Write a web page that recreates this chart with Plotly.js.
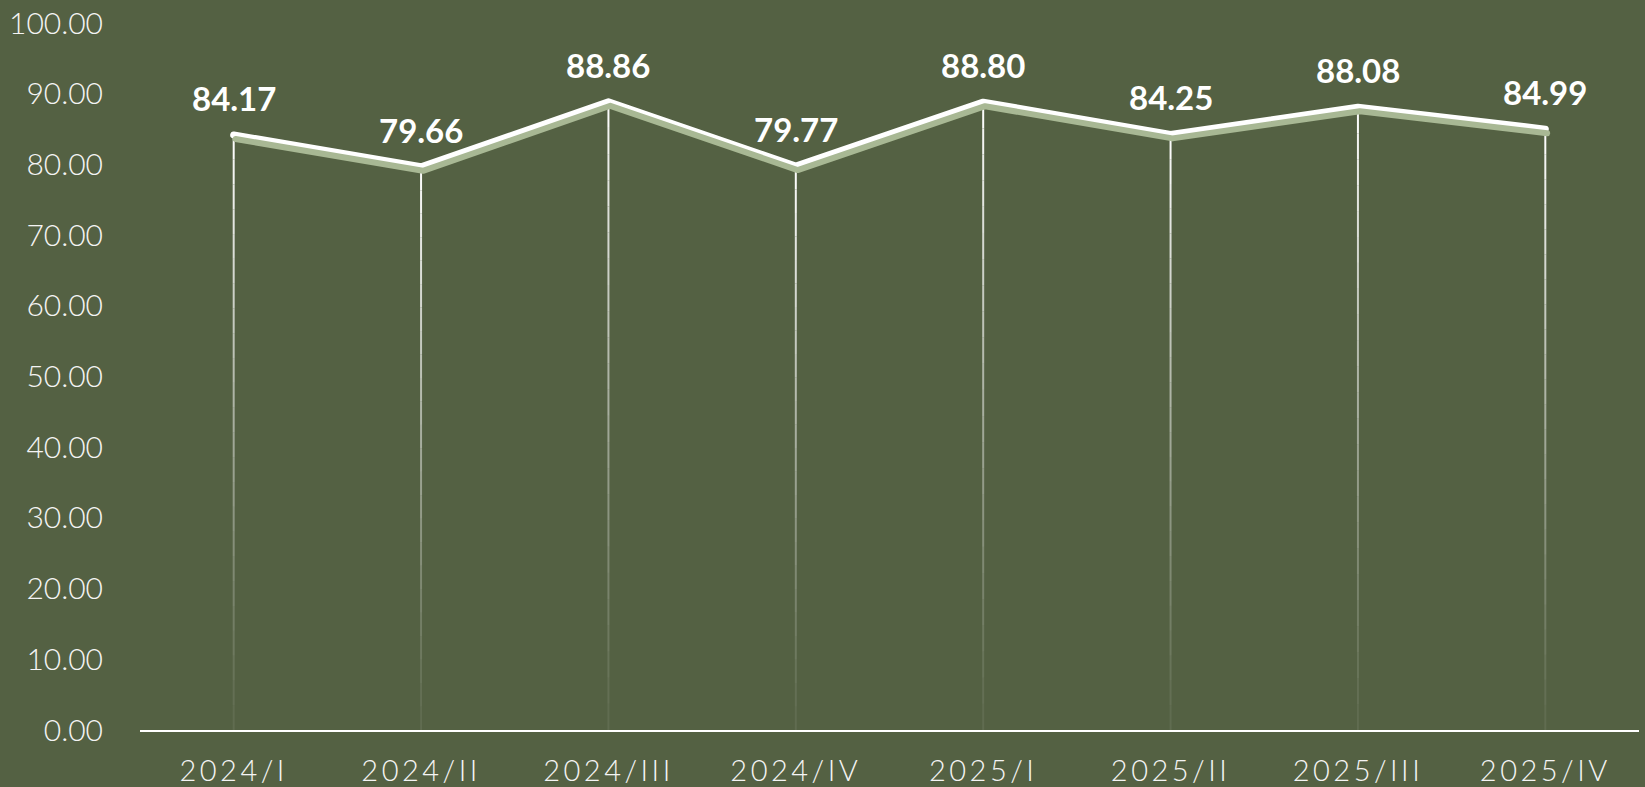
<!DOCTYPE html>
<html><head><meta charset="utf-8">
<script src="https://cdn.plot.ly/plotly-3.0.1.min.js"></script>
<style>
html,body{margin:0;padding:0;background:#546143;}
#chart{width:1645px;height:787px;}
.xtick text{letter-spacing:3.5px;}
.js-line{stroke-linejoin:round !important;stroke-linecap:round !important;}
</style></head><body><div id="chart"></div>
<script>
const categories = ['2024/I','2024/II','2024/III','2024/IV','2025/I','2025/II','2025/III','2025/IV'];
const values = [84.17, 79.66, 88.86, 79.77, 88.80, 84.25, 88.08, 84.99];
const valueLabels = values.map(v => v.toFixed(2));

const BG = '#546143';
const SEGMENTS = 24;

// drop lines fading toward the axis, built from the data values
const shapes = [];
categories.forEach((c, i) => {
  const v = values[i];
  for (let k = 0; k < SEGMENTS; k++) {
    const t = (k + 0.5) / SEGMENTS;
    shapes.push({
      type: 'line', xref: 'x', yref: 'y', layer: 'below',
      x0: c, x1: c, y0: v * k / SEGMENTS, y1: v * (k + 1) / SEGMENTS,
      line: {color: 'rgba(255,255,255,' + (0.06 + 0.94 * Math.pow(t, 1.2)).toFixed(3) + ')', width: 2}
    });
  }
});

const shadow = {
  x: categories, y: values, type: 'scatter', mode: 'lines',
  xaxis: 'x2', yaxis: 'y2',
  line: {color: '#a8b894', width: 6},
  hoverinfo: 'skip', showlegend: false
};
const main = {
  x: categories, y: values, type: 'scatter', mode: 'lines',
  line: {color: '#ffffff', width: 7},
  showlegend: false
};

const annotations = categories.map((c, i) => ({
  x: c, y: values[i], xref: 'x', yref: 'y', text: valueLabels[i],
  showarrow: false, yshift: 37,
  font: {family: 'Lato, sans-serif', size: 33, color: '#ffffff', weight: 'bold'}
}));

const layout = {
  width: 1645, height: 787,
  paper_bgcolor: BG, plot_bgcolor: BG,
  margin: {l: 140, r: 6, t: 23, b: 57},
  showlegend: false,
  xaxis: {
    type: 'category', range: [-0.5, 7.5],
    showgrid: false, zeroline: false,
    showline: true, linecolor: '#ffffff', linewidth: 2,
    ticks: 'outside', ticklen: 14, tickcolor: 'rgba(0,0,0,0)',
    tickfont: {family: 'Lato, sans-serif', size: 29, color: '#f4f4f4', weight: 300}
  },
  xaxis2: {type: 'category', overlaying: 'x', range: [-0.51, 7.49], visible: false},
  yaxis: {
    range: [0, 100], dtick: 10, tick0: 0, tickformat: '.2f',
    showgrid: false, zeroline: false, showline: false,
    ticks: 'outside', ticklen: 30, tickcolor: 'rgba(0,0,0,0)',
    tickfont: {family: 'Lato, sans-serif', size: 30, color: '#f4f4f4', weight: 300}
  },
  yaxis2: {overlaying: 'y', range: [0.57, 100.57], visible: false},
  shapes: shapes,
  annotations: annotations
};

Plotly.newPlot('chart', [shadow, main], layout, {displayModeBar: false, responsive: false});
</script></body></html>
